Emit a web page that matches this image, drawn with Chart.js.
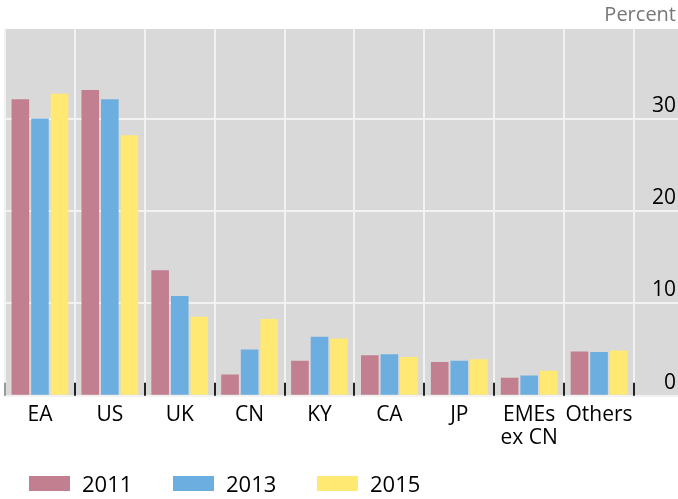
<!DOCTYPE html>
<html>
<head>
<meta charset="utf-8">
<script src="https://cdn.jsdelivr.net/npm/chart.js@4.4.0/dist/chart.umd.min.js"></script>
<style>
  body { margin: 0; background: #fff; }
  #wrap { position: relative; width: 678px; height: 499px; }
  #legend { position: absolute; left: 29px; top: 468px; height: 30px; display: flex; font-family: "Open Sans", sans-serif; font-size: 22px; color: #000; }
  .item { width: 144px; display: flex; align-items: center; }
  .box { width: 41px; height: 15px; margin-right: 12px; }
</style>
</head>
<body>
<div id="wrap">
  <canvas id="grafico"></canvas>
  <div id="legend"></div>
</div>
<script>
var categorias = ["EA", "US", "UK", "CN", "KY", "CA", "JP", ["EMEs", "ex CN"], "Others"];
var valores2011 = [32.1, 33.1, 13.6, 2.3, 3.8, 4.4, 3.65, 1.95, 4.8];
var valores2013 = [30.0, 32.1, 10.8, 5.0, 6.4, 4.5, 3.8, 2.2, 4.75];
var valores2015 = [32.7, 28.2, 8.55, 8.3, 6.2, 4.2, 3.95, 2.7, 4.9];
var series = ["2011", "2013", "2015"];
var colores = ["#c17f8f", "#6caee0", "#ffe973"];

var fuente = "'Open Sans', sans-serif";

// fondo gris y marcas negras al pie
var fondoPlugin = {
  id: "fondo",
  beforeDraw: function (chart) {
    var ctx = chart.ctx;
    var area = chart.chartArea;
    ctx.save();
    ctx.fillStyle = "#d9d9d9";
    ctx.fillRect(area.left, area.top, chart.width - area.left, area.bottom - area.top);
    ctx.restore();
  },
  afterDatasetsDraw: function (chart) {
    var ctx = chart.ctx;
    var x = chart.scales.x;
    var bottom = chart.chartArea.bottom;
    ctx.save();
    ctx.lineWidth = 2;
    for (var i = 0; i <= categorias.length; i++) {
      var px = Math.round(x.getPixelForValue(i - 0.5));
      ctx.strokeStyle = i === 0 ? "#999" : "#222";
      ctx.beginPath();
      ctx.moveTo(px, bottom);
      ctx.lineTo(px, bottom - 13);
      ctx.stroke();
    }
    ctx.restore();
  }
};

var datasets = series.map(function (s, i) {
  return {
    label: s,
    data: [valores2011, valores2013, valores2015][i],
    backgroundColor: colores[i],
    borderWidth: 0,
    categoryPercentage: 0.84,
    barPercentage: 0.9
  };
});

var canvas = document.getElementById("grafico");
canvas.width = 678;
canvas.height = 499;
new Chart(canvas.getContext("2d"), {
  type: "bar",
  data: { labels: categorias, datasets: datasets },
  plugins: [fondoPlugin],
  options: {
    responsive: false,
    animation: false,
    layout: { padding: { left: 5, right: 2, bottom: 41, top: 0 } },
    plugins: {
      legend: { display: false },
      tooltip: { enabled: false },
      title: {
        display: true,
        text: "Percent",
        align: "end",
        color: "#777",
        font: { family: fuente, size: 20, weight: "normal" },
        padding: { top: 3, bottom: 2 }
      }
    },
    scales: {
      x: {
        offset: true,
        grid: { offset: true, color: "#f2f2f2", lineWidth: 2, drawTicks: false },
        border: { display: false },
        ticks: { color: "#000", font: { family: fuente, size: 21, lineHeight: 1.1 }, padding: 8, maxRotation: 0, autoSkip: false }
      },
      y: {
        position: "right",
        min: 0,
        max: 39.7,
        grid: { color: "#f2f2f2", lineWidth: 2, drawTicks: true, tickLength: 44 },
        border: { display: false },
        afterFit: function (scale) { scale.width = 42; },
        afterBuildTicks: function (scale) {
          scale.ticks = [0, 10, 20, 30].map(function (v) { return { value: v }; });
        },
        ticks: { color: "#000", font: { family: fuente, size: 21 }, crossAlign: "far", labelOffset: -13, padding: 0 }
      }
    }
  }
});

var legend = document.getElementById("legend");
series.forEach(function (s, i) {
  var item = document.createElement("div");
  item.className = "item";
  item.innerHTML = '<div class="box" style="background:' + colores[i] + '"></div><span>' + s + '</span>';
  legend.appendChild(item);
});
</script>
</body>
</html>
